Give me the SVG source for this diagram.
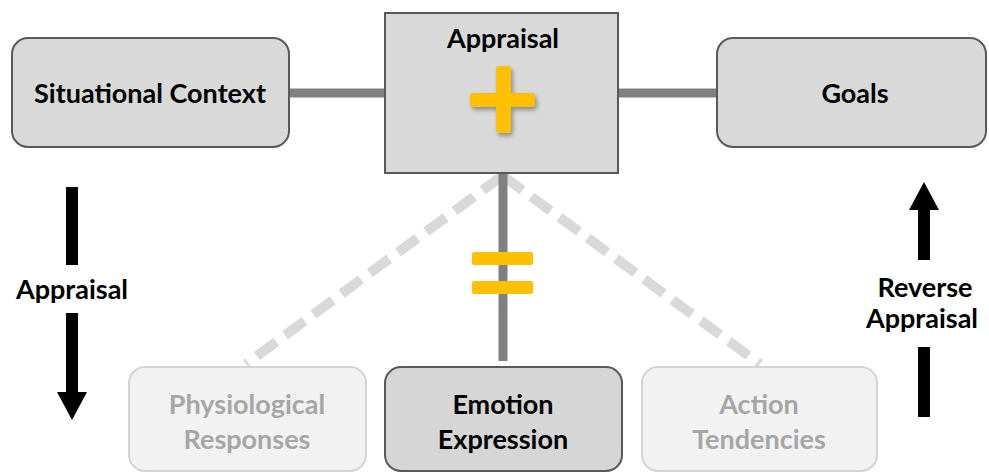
<svg xmlns="http://www.w3.org/2000/svg" width="989" height="472" viewBox="0 0 989 472">
<style>
.box{fill:#D9D9D9;stroke:#595959;stroke-width:2}
.fade{fill:#F2F2F2;stroke:#D4D4D4;stroke-width:2}
.t{font-family:Lato,"Open Sans","Liberation Sans",sans-serif;font-weight:bold;font-size:27px;fill:#000;text-anchor:middle}
.tf{fill:#A6A6A6}
.solid{stroke:#808080;stroke-width:9;fill:none}
.dash{stroke:#D9D9D9;stroke-width:10;fill:none;stroke-dasharray:24 11}
.yel{fill:#FFC000}
</style>
<defs>
<filter id="sh" x="-30%" y="-30%" width="160%" height="160%">
<feDropShadow dx="2" dy="3" stdDeviation="2" flood-color="#000" flood-opacity="0.35"/>
</filter>
</defs>
<g id="connectors">
<line class="solid" x1="289" y1="93" x2="385" y2="93"/>
<line class="solid" x1="618" y1="93" x2="717" y2="93"/>
<line class="dash" x1="502" y1="176" x2="246" y2="364"/>
<line class="dash" x1="503" y1="176" x2="760" y2="364"/>
<line class="solid" x1="503" y1="173" x2="503" y2="361"/>
<rect class="yel" x="472" y="252" width="61" height="13" rx="2"/>
<rect class="yel" x="472" y="281" width="61" height="13" rx="2"/>
</g>
<g id="situational-context">
<rect class="box" x="12" y="38" width="277" height="109" rx="16"/>
<text class="t" x="150" y="103">Situational Context</text>
</g>
<g id="appraisal">
<rect class="box" x="385" y="13" width="233" height="160"/>
<text class="t" x="503" y="48">Appraisal</text>
<g filter="url(#sh)">
<rect class="yel" x="496" y="66" width="15" height="67" rx="3"/>
<rect class="yel" x="470" y="93" width="65" height="14" rx="3"/>
</g>
</g>
<g id="goals">
<rect class="box" x="717" y="38" width="269" height="109" rx="16"/>
<text class="t" x="855" y="103">Goals</text>
</g>
<g id="physiological-responses">
<rect class="fade" x="129" y="367" width="237" height="104" rx="16"/>
<text class="t tf" x="247" y="414">Physiological</text>
<text class="t tf" x="247" y="449">Responses</text>
</g>
<g id="emotion-expression">
<rect class="box" x="385" y="367" width="237" height="104" rx="16" style="fill:#D6D6D6"/>
<text class="t" x="503" y="414">Emotion</text>
<text class="t" x="503" y="449">Expression</text>
</g>
<g id="action-tendencies">
<rect class="fade" x="642" y="367" width="235" height="104" rx="16"/>
<text class="t tf" x="759" y="414">Action</text>
<text class="t tf" x="759" y="449">Tendencies</text>
</g>
<g id="appraisal-arrow">
<rect x="66" y="187" width="12" height="78" fill="#000"/>
<text class="t" x="72" y="299">Appraisal</text>
<rect x="66" y="313" width="12" height="80" fill="#000"/>
<polygon points="57,392 87,392 72,420" fill="#000"/>
</g>
<g id="reverse-appraisal-arrow">
<polygon points="909,210 939,210 924,182" fill="#000"/>
<rect x="918" y="209" width="12" height="51" fill="#000"/>
<text class="t" x="925" y="297">Reverse</text>
<text class="t" x="922" y="328">Appraisal</text>
<rect x="918" y="347" width="12" height="70" fill="#000"/>
</g>
</svg>
